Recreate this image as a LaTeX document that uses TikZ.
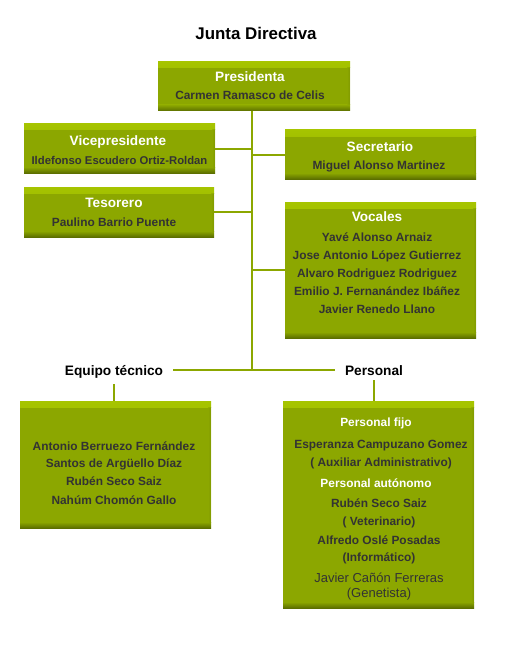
\documentclass[tikz,border=0pt]{standalone}
\usepackage{fontspec}
\setmainfont{Liberation Sans}
\definecolor{gmain}{HTML}{8CA700}
\definecolor{gtop}{HTML}{A6C400}
\definecolor{gbot}{HTML}{5C6F00}
\definecolor{gside}{HTML}{7A9200}
\definecolor{namecol}{HTML}{333333}
\definecolor{linecol}{HTML}{8CA700}
\tikzset{
  greenbox/.style={fill=gmain, inner sep=0pt, outer sep=0pt,
    path picture={
      \shade[top color=gtop, bottom color=gmain]
        (path picture bounding box.north west) rectangle ([yshift=-6pt]path picture bounding box.north east);
      \shade[top color=gmain, bottom color=gbot]
        ([yshift=6pt]path picture bounding box.south west) rectangle (path picture bounding box.south east);
      \shade[left color=gmain, right color=gside, opacity=0.6]
        ([xshift=-3pt,yshift=-6pt]path picture bounding box.north east) rectangle ([yshift=6pt]path picture bounding box.south east);
    }},
  headtxt/.style={anchor=base, inner sep=0pt, text=white, font=\fontsize{13.6}{16}\selectfont\bfseries},
  subheadtxt/.style={anchor=base, inner sep=0pt, text=white, font=\fontsize{11.9}{14}\selectfont\bfseries},
  nametxt/.style={anchor=base, inner sep=0pt, text=namecol, font=\fontsize{11.9}{14}\selectfont\bfseries},
  plaintxt/.style={anchor=base, inner sep=0pt, text=namecol, font=\fontsize{13}{15}\selectfont},
  grouplab/.style={anchor=base, inner xsep=10pt, inner ysep=0pt, text=black, font=\fontsize{13.7}{16}\selectfont\bfseries},
  conn/.style={draw=linecol, line width=2pt}
}
\begin{document}
\begin{tikzpicture}[x=1pt,y=-1pt]
\useasboundingbox (0,0) rectangle (512,650);
\fill[white] (0,0) rectangle (512,650);

% title
\node[anchor=base, inner sep=0pt, font=\fontsize{16.9}{20}\selectfont\bfseries] (title) at (256,40) {Junta Directiva};

% spine junction
\coordinate (jn) at (252,370);

% boxes
\node[greenbox, minimum width=192pt, minimum height=49pt] (pres) at (254,86.5) {};
\node[greenbox, minimum width=191pt, minimum height=49pt] (vice) at (119.5,148.5) {};
\node[greenbox, minimum width=191pt, minimum height=49pt] (sec) at (380.5,154.5) {};
\node[greenbox, minimum width=190pt, minimum height=50pt] (tes) at (119,212) {};
\node[greenbox, minimum width=191pt, minimum height=136pt] (voc) at (380.5,270) {};
\node[greenbox, minimum width=191pt, minimum height=127pt] (eqbox) at (115.5,464.5) {};
\node[greenbox, minimum width=191pt, minimum height=207pt] (psbox) at (378.5,504.5) {};

% connectors
\draw[conn] (pres.south -| jn) -- (jn);
\draw[conn] (vice.east) -- (vice.east -| jn);
\draw[conn] (tes.east) -- (tes.east -| jn);
\draw[conn] (sec.west) -- (sec.west -| jn);
\draw[conn] (voc.west) -- (voc.west -| jn);

% group labels
\node[grouplab] (eqlab) at (114,375) {Equipo técnico};
\node[grouplab] (pslab) at (374,375) {Personal};
\draw[conn] (eqlab.east |- jn) -- (pslab.west |- jn);
\draw[conn] ([yshift=-6pt]eqlab.south) -- (eqlab.south |- eqbox.north);
\draw[conn] ([yshift=-5pt]pslab.south) -- (pslab.south |- psbox.north);

% texts
\node[headtxt] (t1) at (250,81.7) {Presidenta};
\node[nametxt] (t2) at (250,99.3) {Carmen Ramasco de Celis};

\node[headtxt] (t3) at (118,145.7) {Vicepresidente};
\node[nametxt, font=\fontsize{11.3}{13}\selectfont\bfseries] (t4) at (119.5,164) {Ildefonso Escudero Ortiz-Roldan};

\node[headtxt] (t5) at (114,207) {Tesorero};
\node[nametxt] (t6) at (114,226) {Paulino Barrio Puente};

\node[headtxt] (t7) at (380,151.7) {Secretario};
\node[nametxt] (t8) at (379,169.3) {Miguel Alonso Martinez};

\node[headtxt] (t9) at (377,221.7) {Vocales};
\node[nametxt] (t10) at (377,241.7) {Yavé Alonso Arnaiz};
\node[nametxt] (t11) at (377,259.7) {Jose Antonio López Gutierrez};
\node[nametxt] (t12) at (377,277.7) {Alvaro Rodriguez Rodriguez};
\node[nametxt] (t13) at (377,295.7) {Emilio J. Fernanández Ibáñez};
\node[nametxt] (t14) at (377,313.7) {Javier Renedo Llano};

\node[nametxt] (t15) at (114,450) {Antonio Berruezo Fernández};
\node[nametxt] (t16) at (114,467.7) {Santos de Argüello Díaz};
\node[nametxt] (t17) at (114,485.7) {Rubén Seco Saiz};
\node[nametxt] (t18) at (114,504) {Nahúm Chomón Gallo};

\node[subheadtxt] (t19) at (376,426.7) {Personal fijo};
\node[nametxt] (t20) at (381,448.3) {Esperanza Campuzano Gomez};
\node[nametxt] (t21) at (381,466) {( Auxiliar Administrativo)};
\node[subheadtxt] (t22) at (376,487.7) {Personal autónomo};
\node[nametxt] (t23) at (379,507.7) {Rubén Seco Saiz};
\node[nametxt] (t24) at (379,525.7) {( Veterinario)};
\node[nametxt] (t25) at (379,544) {Alfredo Oslé Posadas};
\node[nametxt] (t26) at (379,561.7) {(Informático)};
\node[plaintxt] (t27) at (379,582.3) {Javier Cañón Ferreras};
\node[plaintxt] (t28) at (379,597.7) {(Genetista)};
\end{tikzpicture}
\end{document}
